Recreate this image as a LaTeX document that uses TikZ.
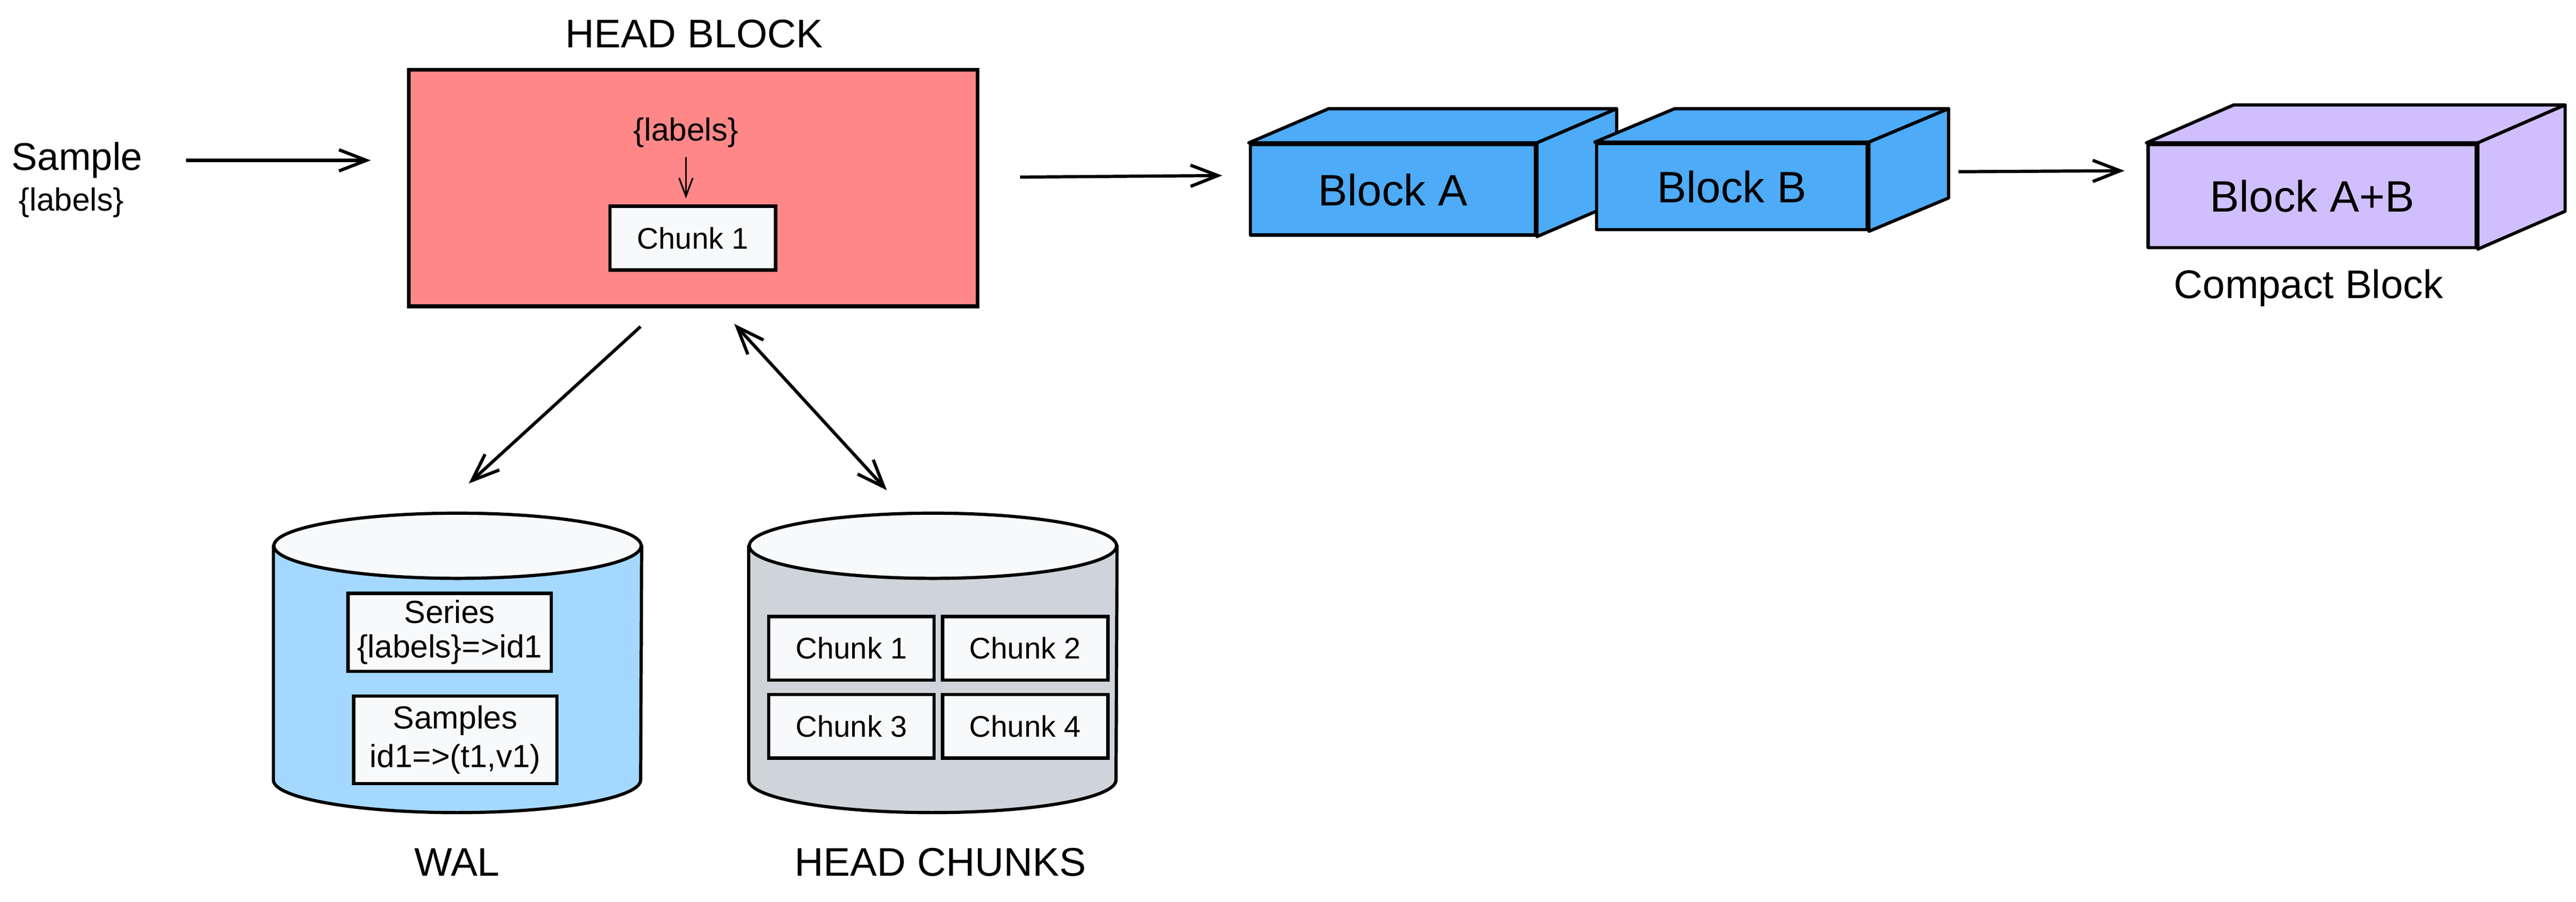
\documentclass[tikz,border=0pt]{standalone}
\usepackage{fontspec}
\setmainfont{Liberation Sans}
\usepackage{xcolor}
\usetikzlibrary{arrows.meta}
\usetikzlibrary{positioning}
\definecolor{headred}{HTML}{FF8787}
\definecolor{blockblue}{HTML}{4DABF7}
\definecolor{compactviolet}{HTML}{D0BFFF}
\definecolor{walblue}{HTML}{A5D8FF}
\definecolor{chunkgray}{HTML}{CED4DA}
\definecolor{paper}{HTML}{F8F9FA}
\tikzset{
    box/.style={
        draw,
        line width=1.3pt,
        fill=paper,
        inner sep=0pt,
        align=center
    },
    face/.style={
        draw,
        line width=1.2pt,
        line join=round
    },
    arr/.style={
        -{Straight Barb[length=3.6mm, width=2.8mm]},
        line width=1.2pt
    },
    arrboth/.style={
        {Straight Barb[length=3.6mm, width=2.8mm]}-{Straight Barb[length=3.6mm, width=2.8mm]},
        line width=1.2pt
    }
}
\begin{document}
\begin{tikzpicture}[
      title/.style = {font=\fontsize{15}{18}\selectfont},
      big/.style = {font=\fontsize{16.5}{19}\selectfont},
      small/.style = {font=\fontsize{12}{12}\selectfont},
      chunk/.style = {box, minimum width=2.18cm, minimum height=0.84cm, font=\fontsize{11.2}{13}\selectfont},
      cube/.style = {face, big},
      db/.style = {minimum width=4.84cm, minimum height=3.935cm, inner sep=0pt}
  ]
  \useasboundingbox (0,0) rectangle (33.95,11.89);

  % Input sample
  \node[font=\fontsize{14.5}{17}\selectfont] (sample) at (1.015,9.775) {Sample};
  \node[small] (samplelabels) at (0.94,9.22) {\{labels\}};

  % Head block
  \node[title] (headtitle) at (9.15,11.445) {HEAD BLOCK};
  \node[draw, line width=1.4pt, fill=headred, minimum width=7.495cm, minimum height=3.12cm] (head) at (9.1375,9.41) {};
  \node[small] (headlabels) at (9.04,10.14) {\{labels\}};
  \node[chunk] (headchunk) at (9.13,8.75) {Chunk 1};

  % Block A
  \node[cube, fill=blockblue, minimum width=3.755cm, minimum height=1.195cm] (blockA) at (18.3575,9.3875) {Block A};
  \path[face, fill=blockblue] (blockA.north west) -- ++(1.05,0.45) -- ([shift={(1.05,0.45)}]blockA.north east) -- (blockA.north east) -- cycle;
  \path[face, fill=blockblue] (blockA.north east) -- ++(1.05,0.45) -- ([shift={(1.05,0.45)}]blockA.south east) -- (blockA.south east) -- cycle;

  % Block B
  \node[cube, fill=blockblue, minimum width=3.57cm, minimum height=1.135cm] (blockB) at (22.825,9.4275) {Block B};
  \path[face, fill=blockblue] (blockB.north west) -- ++(1.05,0.44) -- ([shift={(1.05,0.44)}]blockB.north east) -- (blockB.north east) -- cycle;
  \path[face, fill=blockblue] (blockB.north east) -- ++(1.05,0.44) -- ([shift={(1.05,0.44)}]blockB.south east) -- (blockB.south east) -- cycle;

  % Compacted block
  \node[cube, fill=compactviolet, minimum width=4.325cm, minimum height=1.36cm] (blockAB) at (30.4725,9.305) {Block A+B};
  \path[face, fill=compactviolet] (blockAB.north west) -- ++(1.15,0.5) -- ([shift={(1.15,0.5)}]blockAB.north east) -- (blockAB.north east) -- cycle;
  \path[face, fill=compactviolet] (blockAB.north east) -- ++(1.15,0.5) -- ([shift={(1.15,0.5)}]blockAB.south east) -- (blockAB.south east) -- cycle;
  \node[title] (compacttitle) at (30.425,8.09) {Compact Block};

  % WAL
  \node[db] (wal) at (6.03,3.1475) {};
  \path[face, fill=walblue] ([yshift=-4.3mm]wal.north west) -- ([yshift=4.3mm]wal.south west)
      arc[start angle=180, end angle=360, x radius=2.42cm, y radius=4.3mm] -- ([yshift=-4.3mm]wal.north east) -- cycle;
  \path[face, fill=paper] ([yshift=-4.3mm]wal.north) ellipse[x radius=2.42cm, y radius=4.3mm];
  \node[box, small, minimum width=2.68cm, minimum height=1.03cm] (series) at (5.925,3.55) {Series\\[1pt]\{labels\}=>id1};
  \node[box, small, minimum width=2.68cm, minimum height=1.155cm] (samples) at (6.0,2.1325) {Samples\\[2.5pt]id1=>(t1,v1)};
  \node[title] (waltitle) at (6.025,0.515) {WAL};

  % Head chunks
  \node[db] (chunks) at (12.295,3.1475) {};
  \path[face, fill=chunkgray] ([yshift=-4.3mm]chunks.north west) -- ([yshift=4.3mm]chunks.south west)
      arc[start angle=180, end angle=360, x radius=2.42cm, y radius=4.3mm] -- ([yshift=-4.3mm]chunks.north east) -- cycle;
  \path[face, fill=paper] ([yshift=-4.3mm]chunks.north) ellipse[x radius=2.42cm, y radius=4.3mm];
  \node[chunk] (chunk1) at (11.22,3.34) {Chunk 1};
  \node[chunk] (chunk2) at (13.51,3.34) {Chunk 2};
  \node[chunk] (chunk3) at (11.22,2.31) {Chunk 3};
  \node[chunk] (chunk4) at (13.51,2.31) {Chunk 4};
  \node[title] (chunkstitle) at (12.395,0.515) {HEAD CHUNKS};

  % Connectors
  \draw[arr, shorten <=0.45cm, shorten >=0.48cm] (sample.east) -- (sample.east -| head.west);
  \draw[-{Straight Barb[length=2.4mm, width=1.8mm]}, line width=0.6pt, shorten >=0.08cm] (headlabels.south) -- (headlabels.south |- headchunk.north);
  \draw[arr, shorten <=0.535cm, shorten >=0.35cm] ([yshift=1.4mm]head.east) -- ([yshift=1.9mm]blockA.west);
  \draw[arr, shorten <=1.18cm, shorten >=0.29cm] ([yshift=1.9mm]blockB.east) -- ([yshift=3.35mm]blockAB.west);
  \draw[arr, shorten <=0.36cm, shorten >=0.58cm] ([xshift=-4.3mm]head.south) -- ([xshift=-2.8mm]wal.north);
  \draw[arrboth, shorten <=0.28cm, shorten >=0.41cm] ([xshift=3.5mm]head.south) -- ([xshift=-3.3mm]chunks.north);
\end{tikzpicture}
\end{document}
